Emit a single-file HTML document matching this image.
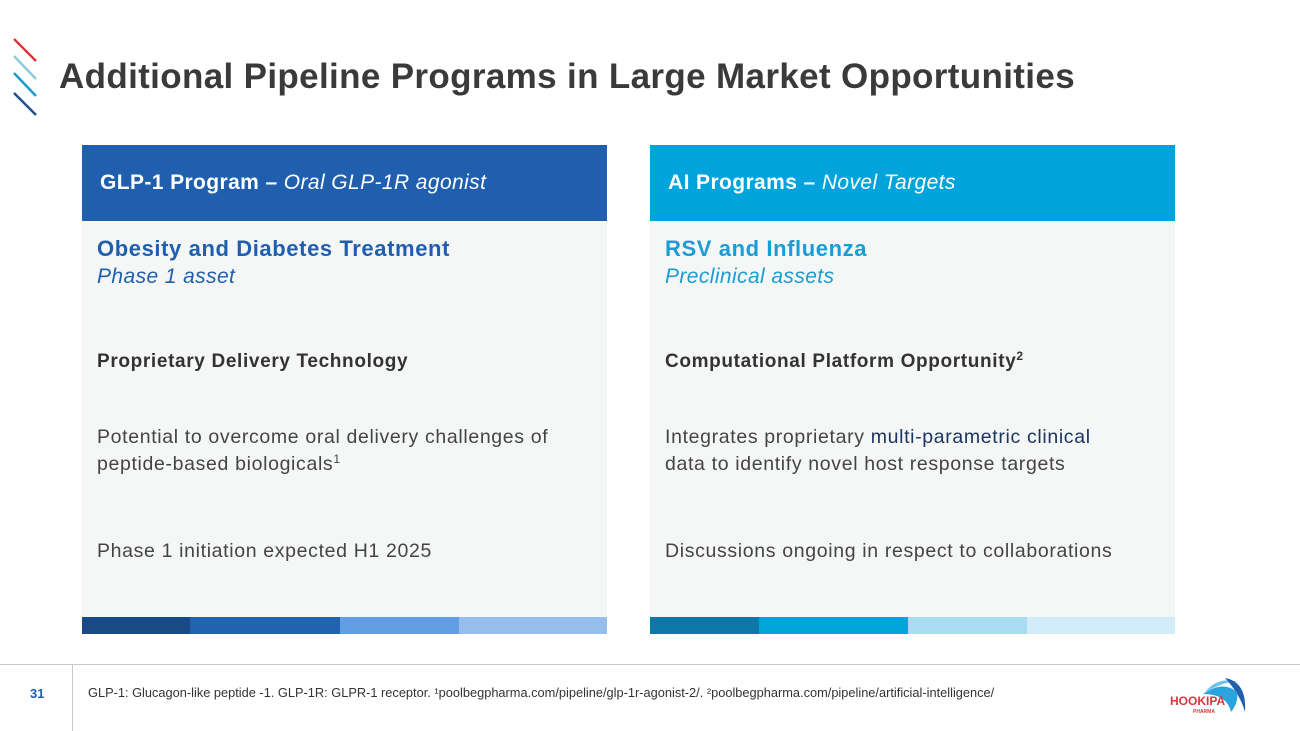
<!DOCTYPE html>
<html><head><meta charset="utf-8"><style>
*{margin:0;padding:0;box-sizing:border-box}
body{width:1300px;height:731px;background:#fff;position:relative;overflow:hidden;font-family:"Liberation Sans","DejaVu Sans",sans-serif;color:#333}
.abs{position:absolute}
sup{font-size:12px;line-height:0;vertical-align:7px}
.title{left:59px;top:57px;font-size:35px;font-weight:bold;color:#3a3a3a;white-space:nowrap;letter-spacing:0.35px}
.card{width:525px;height:472px;background:#f5f6f6;top:145px}
.hdr{position:absolute;left:0;top:0;width:525px;height:76px;color:#fff;font-size:21px;padding:26px 0 0 18px;white-space:nowrap;letter-spacing:0.4px}
.h1{position:absolute;left:15px;top:91px;font-size:22px;font-weight:bold;letter-spacing:0.6px;white-space:nowrap}
.h2{position:absolute;left:15px;top:120px;font-size:21px;font-style:italic;letter-spacing:0.4px}
.sub{position:absolute;left:15px;top:206px;font-size:19px;font-weight:bold;color:#333;letter-spacing:0.65px;white-space:nowrap}
.p{position:absolute;left:15px;font-size:19.5px;line-height:27px;color:#444;white-space:nowrap;letter-spacing:0.65px}
.bars{top:617px;height:17px}
.seg{position:absolute;top:0;height:17px}
</style></head><body>
<svg class="abs" style="left:0;top:30px" width="50" height="100">
<line x1="14" y1="9" x2="36" y2="31" stroke="#d9363e" stroke-width="2.5"/>
<line x1="14" y1="26" x2="36" y2="49" stroke="#8fcbe0" stroke-width="2.5"/>
<line x1="14" y1="43" x2="36" y2="66" stroke="#1b9bd1" stroke-width="2.5"/>
<line x1="14" y1="63" x2="36" y2="85" stroke="#1d4f91" stroke-width="2.5"/>
</svg>
<div class="abs title">Additional Pipeline Programs in Large Market Opportunities</div>

<div class="abs card" style="left:82px">
<div class="hdr" style="background:#1f5fae"><b>GLP-1 Program – </b><i>Oral GLP-1R agonist</i></div>
<div class="h1" style="color:#1f5fae">Obesity and Diabetes Treatment</div>
<div class="h2" style="color:#1f5fae">Phase 1 asset</div>
<div class="sub">Proprietary Delivery Technology</div>
<div class="p" style="top:279px">Potential to overcome oral delivery challenges of<br>peptide-based biologicals<sup>1</sup></div>
<div class="p" style="top:393px">Phase 1 initiation expected H1 2025</div>
</div>
<div class="abs bars" style="left:82px;width:525px">
<div class="seg" style="left:0;width:108px;background:#1a4a86"></div>
<div class="seg" style="left:108px;width:150px;background:#2163b0"></div>
<div class="seg" style="left:258px;width:119px;background:#639ee2"></div>
<div class="seg" style="left:377px;width:148px;background:#96beec"></div>
</div>

<div class="abs card" style="left:650px">
<div class="hdr" style="background:#00a3dc"><b>AI Programs – </b><i>Novel Targets</i></div>
<div class="h1" style="color:#1a9cd4">RSV and Influenza</div>
<div class="h2" style="color:#1a9cd4">Preclinical assets</div>
<div class="sub">Computational Platform Opportunity<sup>2</sup></div>
<div class="p" style="top:279px">Integrates proprietary <span style="color:#1a3560">multi-parametric clinical</span><br>data to identify novel host response targets</div>
<div class="p" style="top:393px">Discussions ongoing in respect to collaborations</div>
</div>
<div class="abs bars" style="left:650px;width:525px">
<div class="seg" style="left:0;width:109px;background:#0b78a6"></div>
<div class="seg" style="left:109px;width:149px;background:#00a5dc"></div>
<div class="seg" style="left:258px;width:119px;background:#a9dbf1"></div>
<div class="seg" style="left:377px;width:148px;background:#d2edf9"></div>
</div>

<div class="abs" style="left:0;top:664px;width:1300px;height:1px;background:#c8c8c8"></div>
<div class="abs" style="left:72px;top:664px;width:1px;height:67px;background:#c8c8c8"></div>
<div class="abs" style="left:30px;top:686px;font-size:13px;font-weight:bold;color:#1f5fae">31</div>
<div class="abs" style="left:88px;top:685px;font-size:12.8px;color:#333;white-space:nowrap">GLP-1: Glucagon-like peptide -1. GLP-1R: GLPR-1 receptor. ¹poolbegpharma.com/pipeline/glp-1r-agonist-2/. ²poolbegpharma.com/pipeline/artificial-intelligence/</div>
<svg class="abs" style="left:1165px;top:672px" width="85" height="50">
<path d="M40 20 Q55 2 78 12 Q70 8 58 12 Q50 15 40 20Z" fill="#6fc3e8"/>
<path d="M60 6 Q82 10 80 40 Q75 22 60 6Z" fill="#1f5fae"/>
<path d="M38 22 Q58 8 72 20 Q74 30 66 40 Q62 22 38 22Z" fill="#2aa4dc"/>
<text x="5" y="33" font-family="Liberation Sans,sans-serif" font-weight="bold" font-size="12" fill="#d9363e">HOOKIPA</text>
<text x="28" y="41" font-family="Liberation Sans,sans-serif" font-weight="bold" font-size="5" fill="#d9363e">PHARMA</text>
</svg>
</body></html>
